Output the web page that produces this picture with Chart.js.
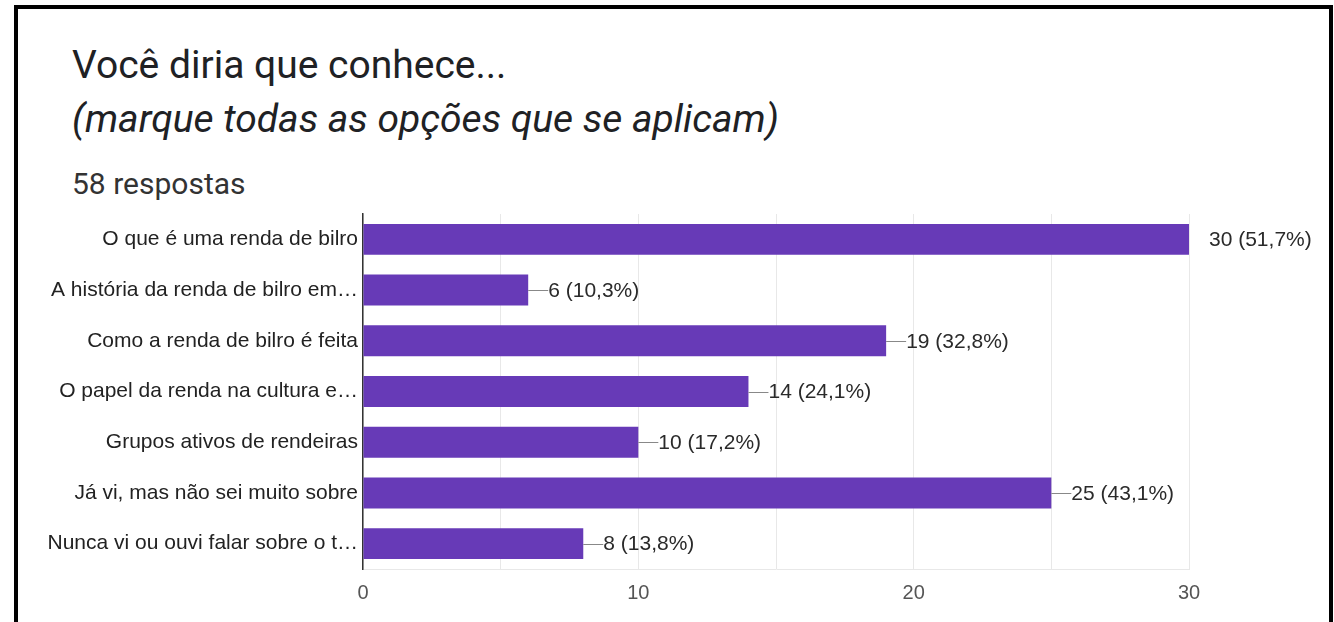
<!DOCTYPE html>
<html>
<head>
<meta charset="utf-8">
<script src="https://cdn.jsdelivr.net/npm/chart.js@4"></script>
<style>
  body { margin: 0; background: #fff; width: 1334px; height: 622px; overflow: hidden; position: relative; }
  .frame { position: absolute; left: 14px; top: 5px; width: 1319px; height: 617px; box-sizing: border-box;
           border: 4px solid #000; border-bottom: none; pointer-events: none; }
  .txt { position: absolute; left: 72px; font-family: Roboto, sans-serif; color: #202124; white-space: nowrap; }
  #title { top: 46px; font-size: 39px; line-height: 39px; }
  #title2 { top: 100px; font-size: 39px; line-height: 39px; font-style: italic; }
  #count { top: 169px; font-size: 30px; line-height: 30px; color: #333; }
  #chart { position: absolute; left: 0; top: 195px; }
</style>
</head>
<body>
<div id="title" class="txt">Você diria que conhece...</div>
<div id="title2" class="txt">(marque todas as opções que se aplicam)</div>
<div id="count" class="txt">58 respostas</div>
<canvas id="chart" width="1334" height="427"></canvas>
<div class="frame"></div>
<script>
'use strict';

const categories = [
  'O que é uma renda de bilro',
  'A história da renda de bilro em…',
  'Como a renda de bilro é feita',
  'O papel da renda na cultura e…',
  'Grupos ativos de rendeiras',
  'Já vi, mas não sei muito sobre',
  'Nunca vi ou ouvi falar sobre o t…'
]
const counts = [30, 6, 19, 14, 10, 25, 8]
const percents = ['51,7', '10,3', '32,8', '24,1', '17,2', '43,1', '13,8']
const xTicks = [0, 10, 20, 30]

const labelFont = '21px "Liberation Sans", Arial, sans-serif'

// leader line + "n (p%)" next to each bar
const valueLabels = {
  id: 'valueLabels',
  afterDatasetsDraw(chart) {
    const ctx = chart.ctx
    const meta = chart.getDatasetMeta(0)
    const xMax = chart.scales.x.max
    ctx.save()
    ctx.font = labelFont
    ctx.textBaseline = 'middle'
    ctx.textAlign = 'left'
    meta.data.forEach((bar, i) => {
      if (counts[i] < xMax) {
        ctx.strokeStyle = '#888'
        ctx.lineWidth = 1
        ctx.beginPath()
        ctx.moveTo(bar.x, Math.round(bar.y) + 0.5)
        ctx.lineTo(bar.x + 20, Math.round(bar.y) + 0.5)
        ctx.stroke()
      }
      ctx.fillStyle = '#2a2a2a'
      ctx.fillText(counts[i] + ' (' + percents[i] + '%)', bar.x + 20, bar.y + 1)
    })
    ctx.restore()
  }
}

new Chart(document.getElementById('chart'), {
  type: 'bar',
  data: {
    labels: categories,
    datasets: [{
      data: counts,
      backgroundColor: '#673ab7',
      barPercentage: 0.61,
      categoryPercentage: 1
    }]
  },
  options: {
    indexAxis: 'y',
    responsive: false,
    animation: false,
    layout: { padding: { top: 19, right: 145, left: 0, bottom: 0 } },
    plugins: { legend: { display: false }, tooltip: { enabled: false } },
    scales: {
      x: {
        min: 0,
        max: 30,
        afterFit(scale) { scale.height = 427 - 19 - 355 },
        ticks: {
          stepSize: 5,
          padding: 12,
          color: '#555',
          font: { family: '"Liberation Sans", Arial, sans-serif', size: 20 },
          callback: v => xTicks.includes(v) ? String(v) : ''
        },
        grid: { color: '#e8e8e8', drawTicks: false },
        border: { color: '#e8e8e8' }
      },
      y: {
        afterFit(scale) { scale.width = 363 },
        ticks: {
          padding: 5,
          color: '#222',
          font: { family: '"Liberation Sans", Arial, sans-serif', size: 21 }
        },
        grid: { display: false, drawTicks: false },
        border: { color: '#333', width: 1.5 }
      }
    }
  },
  plugins: [valueLabels]
})
</script>
</body>
</html>
